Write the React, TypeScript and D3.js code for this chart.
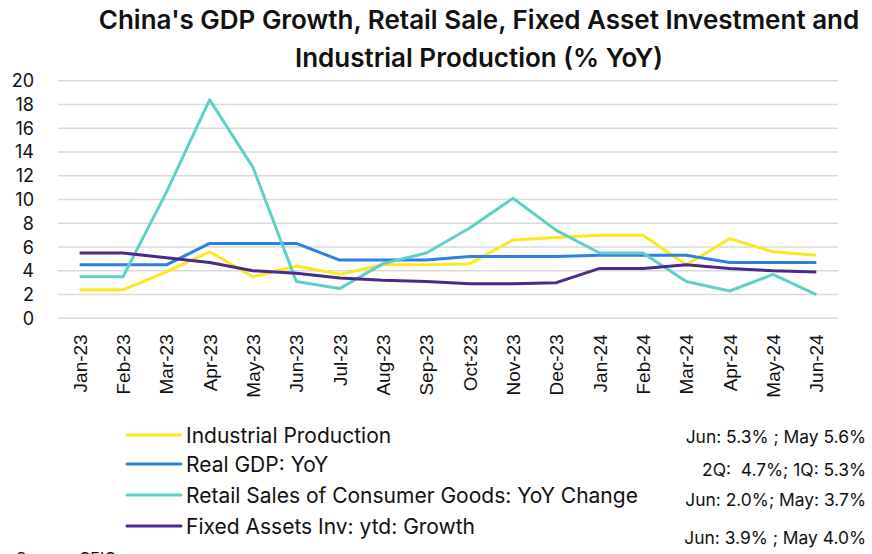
import React, { useRef, useEffect } from "react";
import * as d3 from "d3";

const months = [
  "Jan-23", "Feb-23", "Mar-23", "Apr-23", "May-23", "Jun-23", "Jul-23", "Aug-23", "Sep-23",
  "Oct-23", "Nov-23", "Dec-23", "Jan-24", "Feb-24", "Mar-24", "Apr-24", "May-24", "Jun-24",
];

const industrialProduction = [2.4, 2.4, 3.9, 5.6, 3.5, 4.4, 3.7, 4.5, 4.5, 4.6, 6.6, 6.8, 7.0, 7.0, 4.5, 6.7, 5.6, 5.3];
const realGdp = [4.5, 4.5, 4.5, 6.3, 6.3, 6.3, 4.9, 4.9, 4.9, 5.2, 5.2, 5.2, 5.3, 5.3, 5.3, 4.7, 4.7, 4.7];
const retailSales = [3.5, 3.5, 10.6, 18.4, 12.7, 3.1, 2.5, 4.6, 5.5, 7.6, 10.1, 7.4, 5.5, 5.5, 3.1, 2.3, 3.7, 2.0];
const fixedAssets = [5.5, 5.5, 5.1, 4.7, 4.0, 3.8, 3.4, 3.2, 3.1, 2.9, 2.9, 3.0, 4.2, 4.2, 4.5, 4.2, 4.0, 3.9];

const yTicks = [0, 2, 4, 6, 8, 10, 12, 14, 16, 18, 20];

const seriesNames = [
  "Industrial Production",
  "Real GDP: YoY",
  "Retail Sales of Consumer Goods: YoY Change",
  "Fixed Assets Inv: ytd: Growth",
];
const seriesNotes = [
  "Jun: 5.3% ; May 5.6%",
  "2Q:  4.7%; 1Q: 5.3%",
  "Jun: 2.0%; May: 3.7%",
  "Jun: 3.9% ; May 4.0%",
];
const seriesColors = ["#fbe91f", "#2f80e0", "#5fd0c8", "#4a2a8a"];

const App = () => {
  const ref = useRef(null);

  useEffect(() => {
    const width = 872;
    const height = 554;
    const marginLeft = 58;
    const marginRight = 34;
    const plotTop = 80.7;
    const plotBottom = 318.3;

    const allSeries = [industrialProduction, realGdp, retailSales, fixedAssets];

    const x = d3
      .scaleBand()
      .domain(months)
      .range([marginLeft, width - marginRight]);
    const y = d3.scaleLinear().domain([0, 20]).range([plotBottom, plotTop]);

    d3.select(ref.current).selectAll("*").remove();

    const svg = d3
      .select(ref.current)
      .append("svg")
      .attr("width", width)
      .attr("height", height)
      .style("display", "block")
      .style("background", "#fff");

    // titulo
    const title = svg
      .append("text")
      .attr("text-anchor", "middle")
      .attr("font-family", "Inter, 'Noto Sans', sans-serif")
      .attr("font-weight", 600)
      .attr("font-size", 26)
      .attr("fill", "#111");
    title.append("tspan").attr("x", 479).attr("y", 29).text("China's GDP Growth, Retail Sale, Fixed Asset Investment and");
    title.append("tspan").attr("x", 479).attr("y", 67).text("Industrial Production (% YoY)");

    // grid + eje y
    svg
      .append("g")
      .selectAll("line")
      .data(yTicks)
      .join("line")
      .attr("x1", marginLeft)
      .attr("x2", width - marginRight)
      .attr("y1", (d) => y(d))
      .attr("y2", (d) => y(d))
      .attr("stroke", "#d9d9d9")
      .attr("stroke-width", 1.5);

    svg
      .append("g")
      .selectAll("text")
      .data(yTicks)
      .join("text")
      .attr("x", 34)
      .attr("y", (d) => y(d))
      .attr("dy", "0.36em")
      .attr("text-anchor", "end")
      .attr("font-family", "Inter, sans-serif")
      .attr("font-size", 18)
      .attr("fill", "#111")
      .text((d) => d);

    // eje x
    svg
      .append("g")
      .selectAll("text")
      .data(months)
      .join("text")
      .attr("transform", (d) => `translate(${x(d) + x.bandwidth() / 2 + 7},${plotBottom + 16}) rotate(-90)`)
      .attr("text-anchor", "end")
      .attr("font-family", "'Liberation Sans', Arial, sans-serif")
      .attr("font-size", 19)
      .attr("fill", "#111")
      .text((d) => d);

    // lineas
    const line = d3
      .line()
      .x((d, i) => x(months[i]) + x.bandwidth() / 2)
      .y((d) => y(d));

    allSeries.forEach((s, i) => {
      svg
        .append("path")
        .datum(s)
        .attr("fill", "none")
        .attr("stroke", seriesColors[i])
        .attr("stroke-width", 3)
        .attr("stroke-linejoin", "round")
        .attr("d", line);
    });

    // leyenda
    const legendY = [435, 464, 495, 526];
    const noteY = [437, 470, 500, 538];
    const legend = svg.append("g");
    seriesNames.forEach((name, i) => {
      legend
        .append("line")
        .attr("x1", 127)
        .attr("x2", 181)
        .attr("y1", legendY[i])
        .attr("y2", legendY[i])
        .attr("stroke", seriesColors[i])
        .attr("stroke-width", 3)
        .attr("stroke-linecap", "round");
      legend
        .append("text")
        .attr("x", 186)
        .attr("y", legendY[i])
        .attr("dy", "0.36em")
        .attr("font-family", "Inter, sans-serif")
        .attr("font-size", 21)
        .attr("fill", "#111")
        .text(name);
      legend
        .append("text")
        .attr("x", 866)
        .attr("y", noteY[i])
        .attr("dy", "0.36em")
        .attr("text-anchor", "end")
        .attr("font-family", "Inter, sans-serif")
        .attr("font-size", 17.4)
        .attr("fill", "#111")
        .style("white-space", "pre")
        .text(seriesNotes[i]);
    });

    svg
      .append("text")
      .attr("x", 16)
      .attr("y", 564)
      .attr("font-family", "Inter, sans-serif")
      .attr("font-size", 16)
      .attr("fill", "#111")
      .text("Source: CEIC");
  }, []);

  return <div ref={ref} style={{ position: "absolute", left: 0, top: 0 }}></div>;
};

export default App;
